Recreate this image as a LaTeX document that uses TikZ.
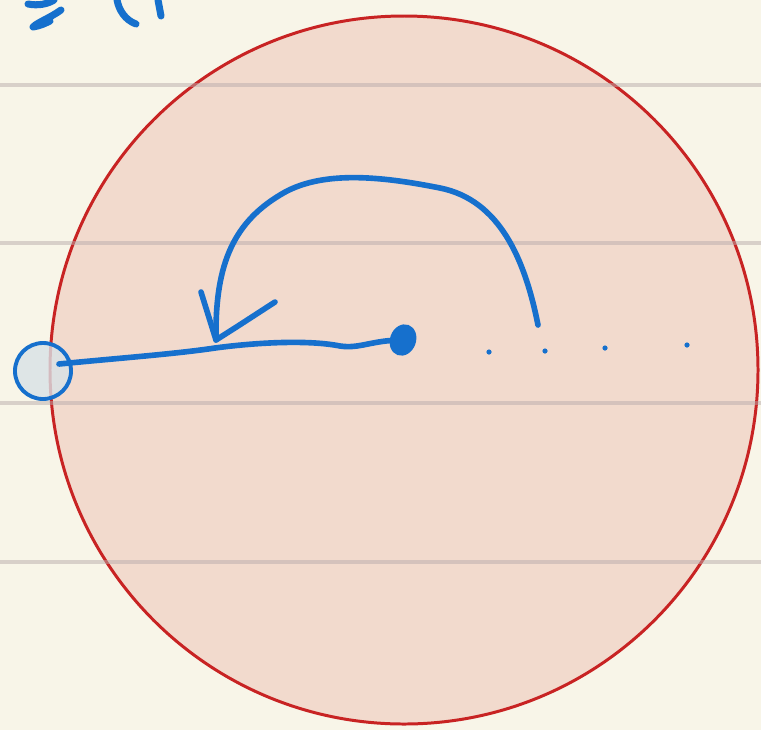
\documentclass[tikz,border=0pt]{standalone}
\usepackage{tikz}
\usetikzlibrary{shapes.geometric}

\definecolor{paper}{RGB}{248,245,232}
\definecolor{rule}{RGB}{185,172,172}
\definecolor{disc}{RGB}{242,218,205}
\definecolor{rim}{RGB}{200,35,35}
\definecolor{ink}{RGB}{22,112,205}
\definecolor{bead}{RGB}{216,226,230}

\newcommand*{\wdpx}{761}
\newcommand*{\htpx}{730}

\begin{document}
\begin{tikzpicture}
[
	x=0.01cm, y=-0.01cm,
	inkline/.style={ink,line width=1.6pt,line cap=round,line join=round},
	ruled/.style={rule,opacity=0.5,line width=1.1pt}
]

	% paper
	\useasboundingbox (0,0) rectangle (\wdpx,\htpx);
	\fill[paper] (0,0) rectangle (\wdpx,\htpx);

	% disc
	\coordinate (centre) at (404,370);
	\filldraw[fill=disc,draw=rim,line width=0.85pt] (centre) circle[radius=354];

	% ruled lines
	\foreach \y in {85,243,403,562}
		\draw[ruled] (0,\y) -- (\wdpx,\y);

	% handwriting at the top left, cut off
	\draw[inkline,line width=2pt] (28,4) .. controls (38,6) and (48,4) .. (54,0);
	\draw[inkline,line width=2pt] (61,10) .. controls (50,18) and (38,22) .. (33,27) .. controls (40,26) and (46,23) .. (50,21);
	\draw[inkline,line width=2pt] (117,0) .. controls (119,10) and (125,20) .. (136,24);
	\draw[inkline,line width=2pt] (158,0) -- (161,16);

	% bead on the rim
	\node[draw=ink,fill=bead,fill opacity=0.8,draw opacity=1,circle,line width=1.1pt,minimum size=0.56cm,inner sep=0pt] (bead) at (43,371) {};

	% centre blob
	\node[ink,fill,ellipse,inner sep=0pt,minimum width=0.26cm,minimum height=0.32cm,rotate=-20] (blob) at (403,340) {};

	% string from bead to centre
	\draw[inkline] (bead.center) ++(16,-7) .. controls (120,358) and (175,354) .. (215,348)
		.. controls (260,342) and (310,340) .. (340,346)
		.. controls (360,349) and (372,340) .. (blob.center);

	% dotted radius
	\foreach \px/\py in {489/352,545/351,605/348,687/345}
		\fill[ink] (\px,\py) circle[radius=2.6];

	% turning arrow
	\draw[inkline] (538,325) .. controls (525,260) and (500,200) .. (440,188)
		.. controls (380,176) and (320,170) .. (280,195)
		.. controls (230,225) and (215,270) .. (216,340);
	\draw[inkline] (201,292) -- (216,340) -- (238,326) -- (275,302);

\end{tikzpicture}
\end{document}
